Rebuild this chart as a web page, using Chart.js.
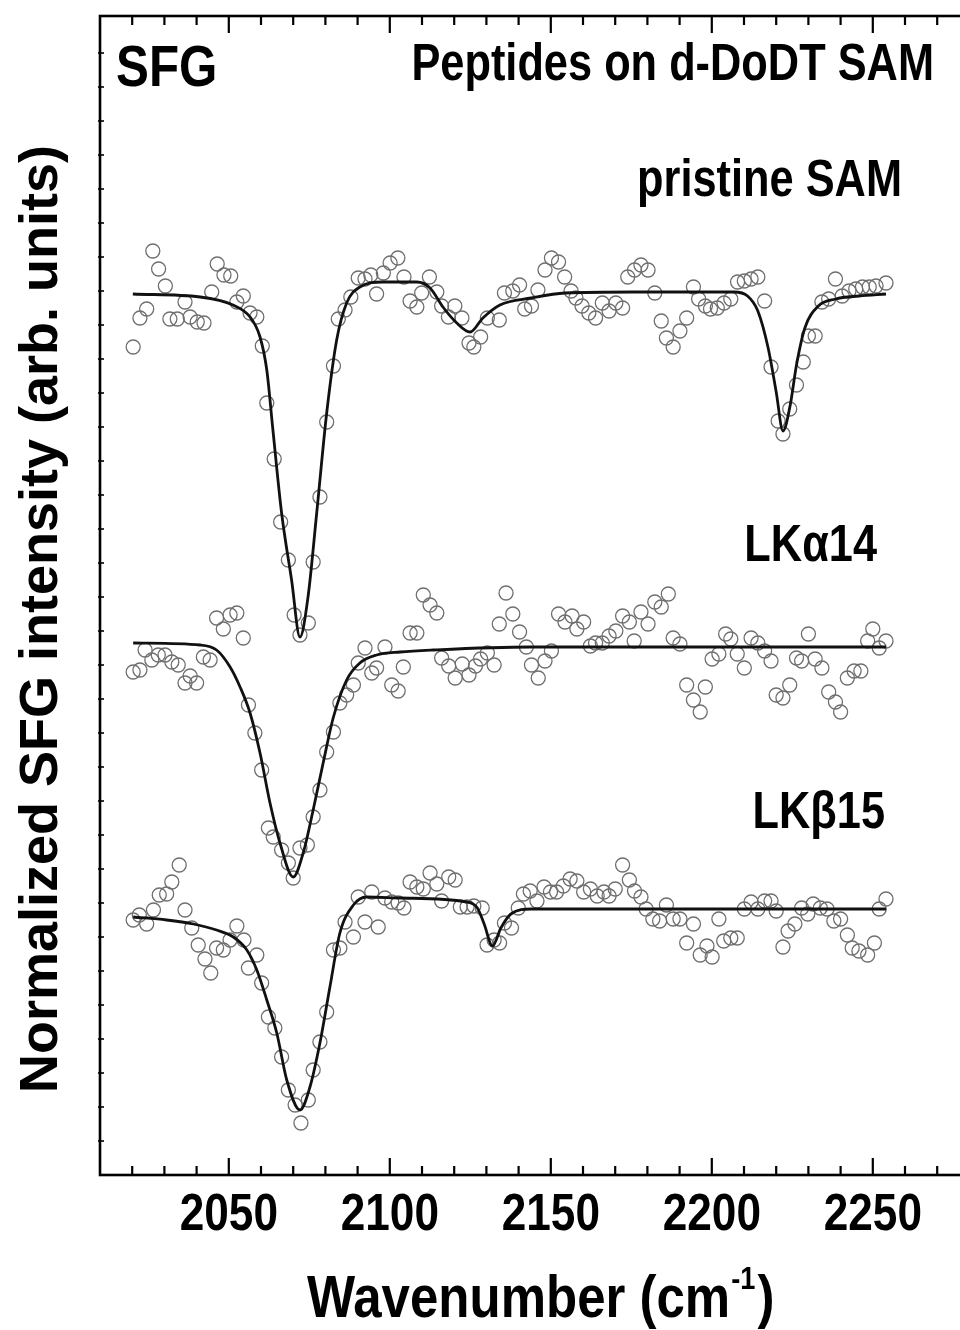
<!DOCTYPE html>
<html>
<head>
<meta charset="utf-8">
<script src="https://cdn.jsdelivr.net/npm/chart.js@4/dist/chart.umd.min.js"></script>
<style>
  html, body { margin: 0; padding: 0; background: #fff; overflow: hidden; }
  #wrap { width: 960px; height: 1330px; overflow: hidden; position: relative; }
  canvas { display: block; }
</style>
</head>
<body>
<div id="wrap"><canvas id="c" width="980" height="1330"></canvas></div>
<script>
// ---------------- data ----------------
// x: wavenumber (cm^-1); y: normalized SFG intensity (arb. units, curves offset)
const xTickValues = [2050, 2100, 2150, 2200, 2250];

const pristineX = [2020.3,2022.4,2024.5,2026.4,2028.2,2030.3,2031.7,2034.0,2036.4,2038.0,2040.2,2042.3,2044.7,2046.4,2048.5,2050.6,2052.5,2054.5,2056.6,2058.7,2060.4,2061.8,2064.1,2066.1,2068.5,2070.3,2072.1,2074.7,2076.2,2078.3,2080.4,2082.5,2084.0,2086.1,2087.9,2090.2,2092.3,2094.1,2095.9,2098.0,2100.1,2102.5,2104.4,2106.3,2108.4,2109.9,2112.3,2114.6,2116.1,2118.2,2120.2,2122.4,2124.6,2126.1,2128.2,2130.3,2134.0,2135.6,2138.2,2140.3,2141.9,2144.0,2146.0,2148.2,2150.2,2152.4,2154.3,2156.3,2157.8,2159.7,2161.8,2163.9,2166.0,2168.1,2170.2,2172.3,2173.9,2176.0,2178.0,2180.2,2182.3,2184.3,2185.9,2188.0,2190.1,2192.2,2194.3,2195.9,2198.0,2199.6,2201.7,2203.8,2205.9,2208.0,2210.1,2212.2,2214.3,2216.4,2218.4,2220.6,2222.1,2224.2,2226.3,2228.4,2230.0,2232.1,2234.2,2236.3,2238.4,2240.5,2242.6,2244.7,2246.8,2248.9,2251.0,2254.1];
const pristineY = [8.28,8.57,8.66,9.24,9.06,8.89,8.56,8.56,8.73,8.58,8.53,8.52,8.83,9.11,9.00,8.99,8.73,8.79,8.62,8.58,8.29,7.72,7.16,6.53,6.15,5.60,5.40,5.52,6.13,6.78,7.53,8.09,8.56,8.65,8.78,8.97,8.96,9.00,8.81,9.02,9.12,9.17,8.98,8.74,8.68,8.82,8.98,8.83,8.69,8.58,8.69,8.57,8.32,8.28,8.38,8.57,8.55,8.82,8.84,8.90,8.66,8.69,8.85,9.05,9.17,9.13,8.98,8.84,8.77,8.69,8.62,8.57,8.72,8.64,8.72,8.67,8.98,9.05,9.10,9.05,8.82,8.54,8.37,8.28,8.44,8.57,8.88,8.76,8.69,8.66,8.67,8.72,8.76,8.93,8.94,8.96,8.98,8.74,8.08,7.54,7.41,7.66,7.90,8.13,8.39,8.39,8.73,8.76,8.96,8.79,8.84,8.86,8.88,8.88,8.89,8.92];
const pristineFitX = [2020.2,2041.1,2051.3,2056.6,2059.7,2061.8,2063.7,2066.4,2069.5,2072.1,2074.6,2077.3,2080.4,2083.5,2086.6,2090.7,2097.9,2108.4,2112.5,2116.5,2120.8,2124.9,2128.9,2134.2,2143.9,2154.4,2175.5,2206.9,2211.1,2214.3,2217.5,2220.0,2222.1,2224.3,2226.3,2228.9,2233.1,2238.4,2245.7,2254.1];
const pristineFitY = [8.81,8.78,8.70,8.58,8.38,8.05,7.45,6.62,5.95,5.38,5.78,6.62,7.62,8.35,8.72,8.88,8.93,8.93,8.87,8.68,8.52,8.43,8.57,8.70,8.77,8.82,8.83,8.83,8.79,8.64,8.27,7.83,7.44,7.69,8.10,8.47,8.69,8.76,8.79,8.81];

const alphaX = [2020.3,2022.4,2024.0,2026.1,2028.1,2030.2,2032.3,2034.3,2036.4,2038.0,2040.0,2042.1,2044.2,2046.2,2048.3,2050.4,2052.5,2054.5,2056.1,2058.1,2060.2,2062.3,2063.8,2066.4,2068.5,2070.0,2072.1,2074.4,2076.2,2078.3,2080.4,2082.5,2084.5,2086.6,2088.7,2090.2,2092.3,2094.4,2095.9,2098.5,2100.6,2102.6,2104.2,2106.3,2108.4,2110.4,2112.5,2114.6,2116.1,2118.3,2120.3,2122.5,2124.6,2126.6,2128.2,2130.3,2132.4,2134.0,2136.1,2138.2,2140.3,2142.4,2144.0,2146.1,2148.2,2150.2,2152.4,2154.4,2156.6,2158.1,2160.2,2162.3,2163.9,2166.0,2168.1,2170.2,2172.3,2174.4,2175.9,2178.0,2180.2,2182.3,2184.3,2186.5,2188.0,2190.1,2192.2,2194.3,2196.4,2198.0,2200.1,2202.2,2204.3,2205.9,2207.9,2210.1,2212.2,2214.3,2216.4,2218.4,2220.0,2222.1,2224.2,2226.3,2227.9,2230.0,2232.1,2234.2,2236.3,2238.4,2240.0,2242.1,2244.2,2246.3,2248.4,2250.0,2252.0,2254.1];
const alphaY = [5.03,5.05,5.25,5.15,5.20,5.20,5.13,5.10,4.92,4.99,4.92,5.18,5.15,5.57,5.46,5.60,5.62,5.37,4.70,4.42,4.05,3.47,3.38,3.25,3.12,2.97,3.27,3.30,3.58,3.85,4.23,4.43,4.72,4.80,4.90,5.12,5.27,5.02,5.07,5.28,4.90,4.84,5.08,5.42,5.42,5.80,5.70,5.62,5.17,5.09,4.97,5.11,5.00,5.09,5.16,5.22,5.10,5.51,5.82,5.61,5.43,5.28,5.10,4.97,5.14,5.24,5.61,5.53,5.59,5.46,5.53,5.29,5.32,5.32,5.39,5.44,5.59,5.53,5.34,5.63,5.51,5.73,5.68,5.81,5.37,5.31,4.90,4.75,4.63,4.88,5.16,5.21,5.41,5.36,5.21,5.07,5.37,5.32,5.24,5.14,4.80,4.77,4.90,5.17,5.14,5.41,5.16,5.07,4.83,4.73,4.63,4.97,5.04,5.04,5.34,5.46,5.27,5.34];
const alphaFitX = [2020.3,2041.1,2046.2,2050.4,2053.5,2056.6,2059.7,2062.8,2065.9,2070.0,2073.1,2076.2,2079.3,2082.5,2086.6,2090.7,2095.9,2103.2,2113.5,2143.5,2254.1];
const alphaFitY = [5.32,5.30,5.25,5.08,4.88,4.62,4.22,3.72,3.32,2.98,3.22,3.65,4.12,4.58,4.95,5.12,5.20,5.23,5.25,5.28,5.28];

const betaX = [2020.3,2022.2,2024.5,2026.6,2028.4,2030.7,2032.3,2034.6,2036.4,2038.5,2040.5,2042.6,2044.4,2046.2,2048.3,2050.4,2052.5,2054.7,2056.1,2058.7,2060.2,2062.3,2064.3,2066.4,2068.5,2070.6,2072.4,2074.7,2076.2,2078.3,2080.4,2082.5,2084.5,2086.1,2088.7,2090.2,2092.3,2094.4,2096.4,2098.5,2100.6,2102.6,2104.4,2106.3,2108.4,2110.4,2112.5,2114.6,2116.1,2118.3,2120.3,2121.9,2124.0,2126.1,2128.7,2130.2,2132.4,2134.1,2135.6,2137.8,2139.9,2141.5,2143.6,2145.7,2147.9,2149.9,2151.8,2153.9,2156.0,2158.1,2160.2,2162.3,2164.4,2166.5,2168.1,2170.0,2172.3,2174.4,2176.0,2178.0,2179.6,2181.7,2183.8,2185.9,2188.0,2190.1,2192.2,2194.3,2196.4,2198.5,2200.1,2202.2,2203.7,2205.9,2207.9,2210.1,2212.2,2214.3,2216.4,2218.4,2220.0,2222.1,2223.7,2225.8,2227.9,2229.8,2231.5,2233.7,2235.8,2237.9,2240.0,2242.1,2243.6,2245.7,2248.4,2250.5,2252.0,2254.1];
const betaY = [2.55,2.60,2.51,2.65,2.80,2.81,2.93,3.10,2.65,2.47,2.30,2.16,2.02,2.27,2.25,2.35,2.49,2.35,2.07,2.20,1.92,1.58,1.47,1.18,0.85,0.70,0.52,0.75,1.05,1.33,1.63,2.25,2.27,2.53,2.38,2.78,2.53,2.83,2.48,2.77,2.73,2.72,2.67,2.93,2.88,2.86,3.02,2.91,2.74,2.98,2.95,2.68,2.68,2.69,2.67,2.30,2.35,2.32,2.52,2.47,2.67,2.81,2.84,2.74,2.88,2.83,2.83,2.89,2.96,2.94,2.83,2.86,2.79,2.83,2.79,2.86,3.10,2.95,2.84,2.78,2.66,2.56,2.54,2.70,2.56,2.56,2.32,2.51,2.20,2.29,2.18,2.56,2.34,2.37,2.37,2.66,2.73,2.66,2.74,2.74,2.64,2.28,2.44,2.51,2.67,2.61,2.71,2.67,2.66,2.54,2.56,2.40,2.27,2.24,2.20,2.32,2.66,2.76];
const betaFitX = [2020.3,2030.7,2039.0,2046.2,2051.4,2055.6,2058.7,2061.8,2064.9,2068.0,2072.1,2075.2,2078.3,2081.4,2084.5,2088.7,2092.8,2103.2,2123.9,2127.2,2129.3,2131.9,2134.5,2137.6,2143.9,2175.4,2254.1];
const betaFitY = [2.58,2.55,2.51,2.45,2.38,2.25,2.05,1.75,1.42,0.95,0.65,0.88,1.32,1.88,2.42,2.70,2.78,2.77,2.73,2.67,2.51,2.29,2.47,2.61,2.66,2.66,2.66];

const seriesLabels = ['pristine SAM', 'LK\u03b114', 'LK\u03b215'];

// ---------------- build chart ----------------
const pts = (xs, ys) => xs.map((x, i) => ({ x: x, y: ys[i] }));
const FONT = "'Liberation Sans', Arial, Helvetica, sans-serif";

function scatterSet(label, xs, ys) {
  return {
    label: label, data: pts(xs, ys), showLine: false, order: 2,
    pointStyle: 'circle', pointRadius: 7, pointHoverRadius: 7,
    pointBorderColor: '#6f6f6f', pointBorderWidth: 1.3,
    pointBackgroundColor: 'rgba(0,0,0,0)'
  };
}
function fitSet(label, xs, ys) {
  return {
    label: label + ' fit', data: pts(xs, ys), showLine: true, order: 1,
    borderColor: '#111', borderWidth: 2.8, pointRadius: 0, fill: false,
    cubicInterpolationMode: 'monotone'
  };
}

function drawText(ctx, s, x, y, size, align, sx) {
  ctx.save();
  ctx.font = 'bold ' + size + 'px ' + FONT;
  ctx.textAlign = align;
  ctx.textBaseline = 'alphabetic';
  ctx.fillStyle = '#000';
  ctx.translate(x, y);
  ctx.scale(sx, 1);
  ctx.fillText(s, 0, 0);
  ctx.restore();
}

const framePlugin = {
  id: 'frame',
  afterDraw(chart) {
    const ctx = chart.ctx;
    const a = chart.chartArea;
    const xs = chart.scales.x, ys = chart.scales.y;
    ctx.save();
    ctx.strokeStyle = '#000';
    // frame
    ctx.lineWidth = 2.6;
    ctx.strokeRect(a.left, a.top, a.right - a.left, a.bottom - a.top);
    // x ticks (bottom and top, inward)
    ctx.lineWidth = 2.2;
    xs.ticks.forEach(t => {
      const v = t.value;
      const px = xs.getPixelForValue(v);
      if (px <= a.left + 2 || px >= a.right - 2) return;
      const major = Math.abs(v % 50) < 1e-6;
      const L = major ? 17 : 9;
      ctx.beginPath();
      ctx.moveTo(px, a.bottom); ctx.lineTo(px, a.bottom - L);
      ctx.moveTo(px, a.top); ctx.lineTo(px, a.top + L);
      ctx.stroke();
    });
    // y ticks (left, short, inward)
    ctx.lineWidth = 1.6;
    ys.ticks.forEach(t => {
      const py = ys.getPixelForValue(t.value);
      if (py <= a.top + 6 || py >= a.bottom - 6) return;
      ctx.beginPath();
      ctx.moveTo(a.left - 2, py); ctx.lineTo(a.left + 4, py);
      ctx.stroke();
    });
    ctx.restore();

    // x tick labels
    xTickValues.forEach(v => {
      drawText(ctx, String(v), xs.getPixelForValue(v), 1230, 52, 'center', 0.85);
    });

    // x axis title with superscript
    ctx.save();
    const sx = 0.85;
    let x0 = 307;
    const base = 1317;
    ctx.font = 'bold 60px ' + FONT;
    const w1 = ctx.measureText('Wavenumber (cm').width * sx;
    drawText(ctx, 'Wavenumber (cm', x0, base, 60, 'left', sx);
    ctx.font = 'bold 32px ' + FONT;
    const w2 = ctx.measureText('-1').width * sx;
    drawText(ctx, '-1', x0 + w1 + 1, base - 28, 32, 'left', sx);
    drawText(ctx, ')', x0 + w1 + w2 + 3, base, 60, 'left', sx);
    ctx.restore();

    // y axis title
    ctx.save();
    ctx.translate(57, 619);
    ctx.rotate(-Math.PI / 2);
    ctx.font = 'bold 54px ' + FONT;
    ctx.textAlign = 'center';
    ctx.textBaseline = 'alphabetic';
    ctx.fillStyle = '#000';
    ctx.fillText('Normalized SFG intensity (arb. units)', 0, 0);
    ctx.restore();

    // annotations
    drawText(ctx, 'SFG', 116, 86, 58, 'left', 0.85);
    drawText(ctx, 'Peptides on d-DoDT SAM', 934, 80, 51, 'right', 0.85);
    drawText(ctx, seriesLabels[0], 902, 196, 51, 'right', 0.85);
    drawText(ctx, seriesLabels[1], 877, 561, 51, 'right', 0.85);
    drawText(ctx, seriesLabels[2], 885, 828, 51, 'right', 0.85);
  }
};

new Chart(document.getElementById('c'), {
  type: 'scatter',
  data: {
    datasets: [
      scatterSet(seriesLabels[0], pristineX, pristineY),
      scatterSet(seriesLabels[1], alphaX, alphaY),
      scatterSet(seriesLabels[2], betaX, betaY),
      fitSet(seriesLabels[0], pristineFitX, pristineFitY),
      fitSet(seriesLabels[1], alphaFitX, alphaFitY),
      fitSet(seriesLabels[2], betaFitX, betaFitY)
    ]
  },
  options: {
    responsive: false,
    animation: false,
    devicePixelRatio: 1,
    events: [],
    layout: { padding: { top: 16, right: 10.6, left: 0, bottom: 0 } },
    plugins: { legend: { display: false }, tooltip: { enabled: false } },
    scales: {
      x: {
        type: 'linear', min: 2010, max: 2280,
        ticks: { display: false, stepSize: 10 },
        grid: { display: false, drawTicks: false },
        border: { display: false },
        afterFit(s) { s.height = 155; }
      },
      y: {
        type: 'linear', min: 0, max: 11.59,
        ticks: { display: false, stepSize: 0.34 },
        grid: { display: false, drawTicks: false },
        border: { display: false },
        afterFit(s) { s.width = 100; }
      }
    }
  },
  plugins: [framePlugin]
});
</script>
</body>
</html>
